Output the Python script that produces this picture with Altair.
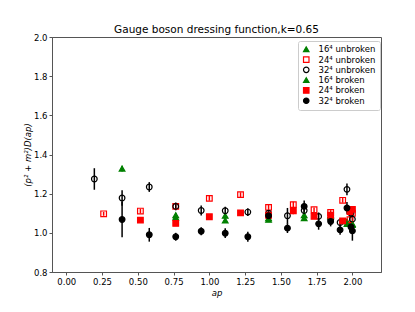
import altair as alt
import pandas as pd

# lattice momenta
ap32 = [0.196, 0.390, 0.580, 0.765, 0.943, 1.111, 1.269, 1.414, 1.546, 1.663, 1.764, 1.848, 1.914, 1.962, 1.990, 2.000]
ap24 = [0.261, 0.518, 0.765, 1.000, 1.218, 1.414, 1.587, 1.732, 1.848, 1.932, 1.983, 2.000]
ap16 = [0.390, 0.765, 1.111, 1.414, 1.663, 1.848, 1.962, 2.000]

# unbroken
val16u = [1.328, 1.090, 1.087, 1.075, 1.090, 1.090, 1.058, 1.045]
err16u = [0.015, 0.012, 0.012, 0.012, 0.012, 0.012, 0.012, 0.012]
val24u = [1.097, 1.111, 1.135, 1.176, 1.195, 1.130, 1.144, 1.118, 1.104, 1.166, 1.067, 1.100]
err24u = [0.010, 0.012, 0.012, 0.012, 0.012, 0.012, 0.015, 0.012, 0.012, 0.012, 0.012, 0.012]
val32u = [1.275, 1.178, 1.234, 1.135, 1.114, 1.113, 1.106, 1.100, 1.087, 1.114, 1.084, 1.070, 1.053, 1.222, 1.100, 1.070]
err32u = [0.055, 0.040, 0.025, 0.020, 0.025, 0.020, 0.020, 0.015, 0.040, 0.020, 0.020, 0.015, 0.020, 0.030, 0.020, 0.020]

# broken
ap16b = [0.765, 1.111, 1.414, 1.663, 1.848, 1.962, 2.000]
val16b = [1.078, 1.063, 1.067, 1.075, 1.085, 1.045, 1.040]
err16b = [0.012, 0.012, 0.012, 0.012, 0.012, 0.012, 0.012]
ap24b = [0.518, 0.765, 1.000, 1.218, 1.414, 1.587, 1.732, 1.848, 1.932, 1.983, 2.000]
val24b = [1.065, 1.048, 1.082, 1.102, 1.090, 1.113, 1.084, 1.090, 1.061, 1.109, 1.120]
err24b = [0.010, 0.010, 0.010, 0.012, 0.015, 0.018, 0.012, 0.015, 0.012, 0.012, 0.015]
ap32b = [0.390, 0.580, 0.765, 0.943, 1.111, 1.269, 1.414, 1.546, 1.663, 1.764, 1.848, 1.914, 1.962, 1.990, 2.000]
val32b = [1.068, 0.990, 0.980, 1.008, 0.998, 0.980, 1.087, 1.024, 1.135, 1.046, 1.058, 1.015, 1.127, 1.030, 1.010]
err32b = [0.090, 0.035, 0.020, 0.020, 0.025, 0.025, 0.030, 0.025, 0.030, 0.030, 0.025, 0.025, 0.030, 0.030, 0.050]

series = ["16⁴ unbroken", "24⁴ unbroken", "32⁴ unbroken", "16⁴ broken", "24⁴ broken", "32⁴ broken"]
colors = ["#008000", "#ff0000", "#000000", "#008000", "#ff0000", "#000000"]
fills = ["#008000", "transparent", "transparent", "#008000", "#ff0000", "#000000"]
shapes = ["triangle-up", "square", "circle", "triangle-up", "square", "circle"]

groups = [
    (ap16, val16u, err16u),
    (ap24, val24u, err24u),
    (ap32, val32u, err32u),
    (ap16b, val16b, err16b),
    (ap24b, val24b, err24b),
    (ap32b, val32b, err32b),
]
rows = []
for i, (xs, vs, es) in enumerate(groups):
    for x, v, e in zip(xs, vs, es):
        rows.append({"series": series[i], "col": colors[i], "order": i,
                     "ap": x, "val": v, "lo": v - e, "hi": v + e})
df = pd.DataFrame(rows)

xscale = alt.Scale(domain=[-0.1, 2.2], nice=False, zero=False)
yscale = alt.Scale(domain=[0.8, 2.0], nice=False, zero=False)

xaxis = alt.Axis(values=[0, 0.25, 0.5, 0.75, 1.0, 1.25, 1.5, 1.75, 2.0], format=".2f",
                 title="ap", titleFontStyle="italic", titleFontWeight="normal",
                 titleFontSize=8.5, titlePadding=3, grid=False)
yaxis = alt.Axis(values=[0.8, 1.0, 1.2, 1.4, 1.6, 1.8, 2.0], format=".1f",
                 title="(p² + m²)D(ap)", titleFontStyle="italic", titleFontWeight="normal",
                 titleFontSize=8.5, titlePadding=1, grid=False)

legend = alt.Legend(title=None, orient="none", legendX=246, legendY=4,
                    labelFontSize=8.5, labelFont="DejaVu Sans", labelColor="#000",
                    symbolSize=30, symbolStrokeWidth=1.2, rowPadding=-0.7,
                    padding=4, strokeColor="#cccccc", fillColor="white",
                    cornerRadius=2, labelOffset=8)

base = alt.Chart(df)

bars = base.mark_rule(strokeWidth=1.5).encode(
    x=alt.X("ap:Q", scale=xscale, axis=xaxis),
    y=alt.Y("lo:Q", scale=yscale, axis=yaxis),
    y2="hi:Q",
    color=alt.Color("col:N", scale=None),
    order="order:Q",
)

pts = base.mark_point(filled=True, opacity=1, size=32, strokeWidth=1.2).encode(
    x=alt.X("ap:Q", scale=xscale, axis=xaxis),
    y=alt.Y("val:Q", scale=yscale, axis=yaxis),
    fill=alt.Fill("series:N", scale=alt.Scale(domain=series, range=fills), legend=legend),
    stroke=alt.Stroke("series:N", scale=alt.Scale(domain=series, range=colors), legend=legend),
    shape=alt.Shape("series:N", scale=alt.Scale(domain=series, range=shapes), legend=legend),
    order="order:Q",
)

chart = alt.layer(bars, pts).properties(
    width=329, height=235,
    autosize=alt.AutoSizeParams(type="none"),
    padding={"left": 44, "top": 29, "right": 20, "bottom": 40},
    title=alt.Title("Gauge boson dressing function,k=0.65", fontSize=10.5,
                    fontWeight="normal", font="DejaVu Sans", color="#000",
                    offset=0, dy=2),
).configure_view(stroke="#555", strokeWidth=1).configure_axis(
    labelFont="DejaVu Sans", titleFont="DejaVu Sans", labelFontSize=8.5,
    labelColor="#000", titleColor="#000", tickSize=3, tickColor="#555",
    domainColor="#555", labelPadding=2
)

chart.save("out.html", embed_options={"renderer": "svg", "actions": False})
